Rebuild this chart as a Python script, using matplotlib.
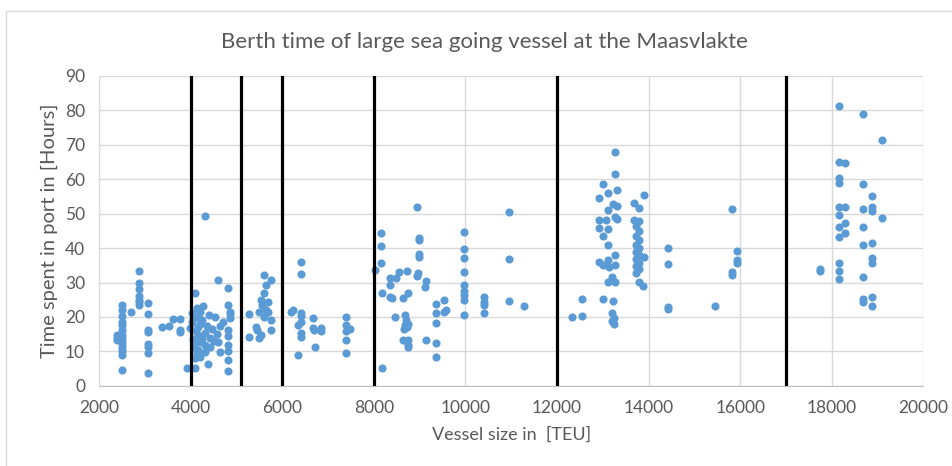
import matplotlib
matplotlib.use("Agg")
import matplotlib.pyplot as plt
from matplotlib.patches import Rectangle

plt.rcParams['font.family'] = ['Lato', 'DejaVu Sans']

# vessel size [TEU] and time in port [hours] per segment
teu_small = [2400, 2400, 2400,
             2510, 2510, 2510, 2510, 2510, 2510, 2510, 2510, 2510, 2510, 2510, 2510, 2510, 2510,
             2690,
             2880, 2880, 2880, 2880, 2880, 2880, 2880,
             3080, 3080, 3080, 3080, 3080, 3080, 3080, 3080,
             3380, 3530, 3620, 3770, 3770, 3770, 3920]
hrs_small = [14.8, 14.0, 13.3,
             23.5, 22.0, 20.3, 18.6, 17.7, 16.3, 14.8, 13.9, 12.8, 11.9, 11.0, 10.0, 9.0, 4.6,
             21.5,
             33.3, 30.0, 28.0, 26.0, 25.0, 24.3, 23.5,
             24.0, 21.0, 16.3, 15.5, 12.2, 11.2, 9.5, 3.8,
             17.1, 17.4, 19.4, 19.4, 16.3, 15.5, 5.3]

teu_4000 = [4100, 4270, 4030, 4210, 4160, 4030, 4250, 3990, 4160, 4530, 4640, 4470,
            4570, 4310, 4160, 4420, 4210, 4100, 4310, 4600, 4160, 4420, 4310, 4210,
            4100, 4640, 4380, 4100, 4810, 4810, 4850, 4850, 4850, 4810, 4810, 4810,
            4810, 4810, 4810, 4600, 4310, 4050, 4120, 4080, 4200, 4350, 4050, 4130,
            4250, 4400, 4700, 4500, 4150]
hrs_4000 = [27.0, 23.2, 21.2, 21.5, 20.0, 18.6, 19.2, 16.8, 17.1, 20.0, 17.4, 16.6,
            15.1, 15.4, 14.8, 14.0, 12.8, 12.5, 11.9, 12.8, 10.5, 11.4, 9.9, 8.4,
            8.1, 9.9, 6.4, 5.2, 28.5, 23.5, 21.5, 21.0, 19.7, 16.3, 14.4, 11.9,
            10.1, 7.5, 4.4, 30.8, 49.3, 13.5, 15.8, 11.0, 18.0, 17.5, 19.5, 22.5,
            13.5, 20.5, 18.5, 13.0, 9.5]

teu_5100 = [5270, 5270, 5600, 5750, 5640, 5600, 5530, 5490, 5640, 5700, 5750, 5600,
            5420, 5450, 5530, 5490, 5750, 5560, 5680]
hrs_5100 = [21.0, 14.3, 32.3, 30.8, 29.3, 27.0, 25.0, 21.5, 22.0, 21.5, 19.2, 20.0,
            17.1, 16.3, 14.8, 14.0, 16.3, 23.5, 24.3]

teu_6000 = [6400, 6400, 6245, 6400, 6400, 6355, 6400, 6400, 6355, 6680, 6680, 6700,
            6850, 6850, 6720, 7390, 7390, 7480, 7390, 7390, 7390, 6200, 6420]
hrs_6000 = [36.0, 32.5, 22.0, 21.2, 20.2, 17.7, 15.4, 14.2, 9.0, 19.7, 16.9, 16.3,
            16.9, 16.0, 11.4, 20.0, 17.7, 16.6, 16.0, 13.4, 9.5, 21.5, 18.5]

teu_8000 = [8020, 8150, 8150, 8150, 8170, 8170, 8350, 8350, 8480, 8560, 8720, 8350,
            8400, 8460, 8630, 8740, 8680, 8700, 8680, 8720, 8650, 8740, 8630, 8740,
            8740, 8740, 8940, 8980, 8980, 8980, 8980, 8960, 8940, 9150, 9110, 9150,
            9350, 9540, 9350, 9540, 9570, 9350, 9350, 9350,
            9960, 9960, 9960, 9960, 9960, 9960, 9960, 9960, 9960,
            10410, 10410, 10410, 10410, 10950, 10950, 10950, 11280]
hrs_8000 = [33.7, 44.4, 40.6, 35.7, 27.0, 5.2, 31.4, 29.3, 31.4, 33.1, 33.4, 25.9,
            25.6, 20.0, 25.6, 27.0, 20.6, 19.0, 17.7, 17.0, 16.5, 18.0, 13.4, 13.4,
            11.9, 11.2, 52.0, 43.0, 42.3, 38.3, 37.4, 32.8, 31.9, 30.5, 28.8, 13.4,
            23.8, 25.0, 21.2, 21.5, 22.0, 18.3, 12.5, 8.4,
            44.7, 39.8, 37.0, 33.1, 29.3, 27.6, 26.3, 25.0, 20.6,
            25.9, 24.3, 23.4, 21.2, 50.5, 36.9, 24.7, 23.2]

teu_12000 = [12320, 12540, 12540, 13010, 13230, 12920, 13010, 13120, 13300, 13270,
             13270, 13230, 13300, 13120, 12920, 13080, 13260, 13300, 12920, 13120,
             13010, 13120, 12920, 13010, 13120, 13140, 13260, 13260, 13190, 13120,
             13270, 13190, 13240, 13190, 13240,
             13900, 13690, 13800, 13690, 13800, 13730, 13800, 13730, 13780, 13730,
             13800, 13730, 13800, 13900, 13730, 13800, 13730, 13800, 13730, 13800,
             13880, 14430, 14430, 14430, 14430, 15450, 15810, 15920, 15920, 15920,
             15810, 15810]
hrs_12000 = [20.0, 25.3, 20.3, 25.3, 24.7, 54.6, 58.6, 56.0, 56.9, 68.0,
             61.6, 52.8, 52.3, 51.1, 48.2, 48.2, 49.0, 48.5, 45.9, 45.6,
             43.6, 40.9, 36.0, 35.1, 36.6, 34.5, 38.0, 35.1, 31.7, 30.2,
             30.2, 21.2, 19.7, 18.8, 18.0,
             55.5, 53.1, 51.6, 48.2, 48.0, 46.3, 45.0, 43.6, 42.4, 41.0,
             40.1, 39.0, 38.0, 37.5, 36.8, 35.7, 34.8, 33.9, 32.8, 30.2,
             29.1, 40.1, 35.5, 22.9, 22.2, 23.3, 51.4, 39.2, 36.6, 35.7,
             33.1, 32.3]

teu_17000 = [17740, 17740, 18160, 18160, 18290, 18160, 18160, 18160, 18290, 18160,
             18290, 18160, 18290, 18160, 18160, 18160, 18160, 18680, 19100, 18680,
             18870, 18680, 18870, 18870, 19100, 18680, 18680, 18870, 18870, 18870,
             18680, 18680, 18680, 18870, 18870]
hrs_17000 = [33.4, 34.0, 81.3, 65.0, 64.8, 60.4, 59.0, 52.0, 52.0, 49.7,
             47.4, 46.2, 44.4, 43.3, 35.7, 33.4, 31.1, 79.0, 71.4, 58.6,
             55.0, 51.4, 52.0, 50.8, 48.8, 46.2, 41.0, 41.6, 37.2, 35.7,
             31.7, 25.3, 24.4, 25.9, 23.2]

class_bounds = [4000, 5100, 6000, 8000, 12000, 17000]

teu = teu_small + teu_4000 + teu_5100 + teu_6000 + teu_8000 + teu_12000 + teu_17000
hrs = hrs_small + hrs_4000 + hrs_5100 + hrs_6000 + hrs_8000 + hrs_12000 + hrs_17000

text_col = '#595959'
grid_col = '#d9d9d9'

fig = plt.figure(figsize=(9.52, 4.66), dpi=100)
ax = fig.add_axes([0.104, 0.172, 0.866, 0.665])

# chart area border
fig.patches.append(Rectangle((0.006, -0.01), 1.0, 0.986, transform=fig.transFigure,
                             fill=False, edgecolor=grid_col, linewidth=1))

ax.scatter(teu, hrs, s=34, color='#5B9BD5', linewidths=0, zorder=3)

for b in class_bounds:
    ax.axvline(b, color='black', linewidth=2.3, zorder=4)

ax.set_xlim(2000, 20000)
ax.set_ylim(0, 90)
ax.set_xticks(range(2000, 20001, 2000))
ax.set_yticks(range(0, 91, 10))
ax.grid(True, color=grid_col, linewidth=1, zorder=0)
ax.set_axisbelow(True)
for side in ['top', 'right']:
    ax.spines[side].set_visible(False)
ax.spines['left'].set_color(grid_col)
ax.spines['bottom'].set_color('#bfbfbf')
ax.tick_params(length=0, labelsize=12.5, colors=text_col, pad=10)

# title is centred on the chart area, not on the plot area
fig.text(0.509, 0.91, 'Berth time of large sea going vessel at the Maasvlakte',
         fontsize=16, color=text_col, ha='center', va='center')
ax.set_xlabel('Vessel size in  [TEU]', fontsize=13, color=text_col, labelpad=8)
ax.set_ylabel('Time spent in port in [Hours]', fontsize=14.5, color=text_col, labelpad=5)

fig.savefig('out.png', dpi=100)
